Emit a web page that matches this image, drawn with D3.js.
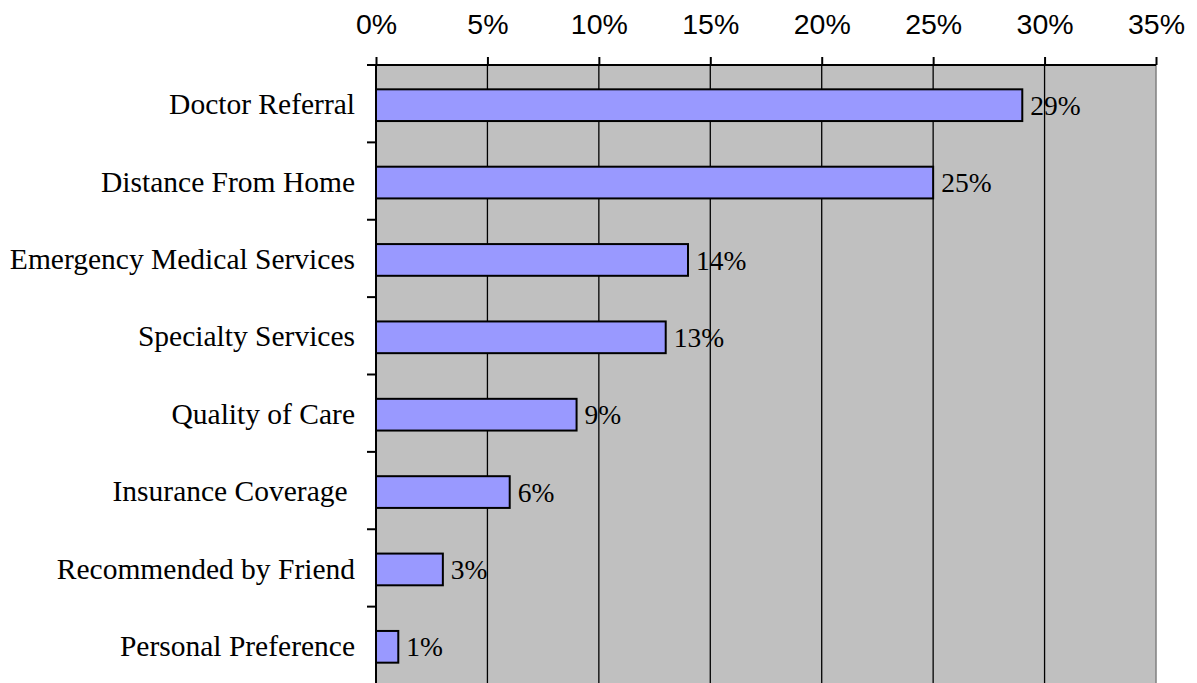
<!DOCTYPE html>
<html><head><meta charset="utf-8">
<script src="https://cdn.jsdelivr.net/npm/d3@7"></script>
<style>
html,body{margin:0;padding:0;background:#fff;}
svg{display:block;}
</style></head>
<body>
<svg id="chart" width="1197" height="683"></svg>
<script>
const categories = ["Doctor Referral","Distance From Home","Emergency Medical Services","Specialty Services","Quality of Care","Insurance Coverage ","Recommended by Friend","Personal Preference"];
const values = [29,25,14,13,9,6,3,1];
const tickValues = [0,5,10,15,20,25,30,35];

(function(){
const svg = d3.select("#chart");
const pL = 376, pR = 1156, pT = 65, pB = 684;
const x = d3.scaleLinear().domain([0,35]).range([pL,pR]);
const y = d3.scaleBand().domain(categories).range([pT,pB]).paddingInner(0.59).paddingOuter(0.295);
const yTicks = d3.scaleBand().domain(categories).range([pT,pB]);

svg.append("rect").attr("x",pL).attr("y",pT).attr("width",pR-pL).attr("height",pB-pT).attr("fill","#C0C0C0");

svg.append("g").selectAll("line").data(tickValues.slice(1,-1)).join("line")
  .attr("x1",d=>x(d)).attr("x2",d=>x(d)).attr("y1",pT).attr("y2",pB)
  .attr("stroke","#000").attr("stroke-width",1.3);
svg.append("line").attr("x1",pR).attr("x2",pR).attr("y1",pT).attr("y2",pB).attr("stroke","#808080").attr("stroke-width",1.5);

svg.append("g").selectAll("rect").data(values).join("rect")
  .attr("x",x(0)).attr("y",(d,i)=>y(categories[i])+1.5)
  .attr("width",d=>x(d)-x(0)).attr("height",y.bandwidth())
  .attr("fill","#9999FF").attr("stroke","#000").attr("stroke-width",2);

svg.append("g").selectAll("text").data(values).join("text")
  .attr("x",d=>x(d)+8).attr("y",(d,i)=>y(categories[i])+1.5+y.bandwidth()/2)
  .attr("dy","0.35em")
  .attr("font-family","'Liberation Serif','Times New Roman',serif").attr("font-size",27.5).attr("fill","#000")
  .text(d=>d+"%");

const xAxis = d3.axisTop(x).tickValues(tickValues).tickFormat(d=>d+"%").tickSize(8).tickPadding(23);
const gx = svg.append("g").attr("transform",`translate(0,${pT})`).call(xAxis);
gx.select(".domain").attr("stroke","#000").attr("stroke-width",2).attr("d",`M${pL},0H${pR}`);
gx.selectAll(".tick line").attr("stroke","#000").attr("stroke-width",2);
gx.selectAll(".tick text").attr("font-family","'Liberation Sans',Arial,sans-serif").attr("font-size",28.5).attr("fill","#000");

const yAxis = d3.axisLeft(yTicks).tickSize(0).tickPadding(21);
const gy = svg.append("g").attr("transform",`translate(${pL},0)`).call(yAxis);
gy.select(".domain").attr("stroke","#000").attr("stroke-width",2).attr("d",`M0,${pT}V${pB}`);
gy.selectAll(".tick text").attr("font-family","'Liberation Serif','Times New Roman',serif").attr("font-size",29.5).attr("fill","#000").style("white-space","pre").attr("dy","0.36em");
svg.append("g").selectAll("line").data(categories).join("line")
  .attr("x1",pL-9).attr("x2",pL).attr("y1",d=>yTicks(d)).attr("y2",d=>yTicks(d))
  .attr("stroke","#000").attr("stroke-width",2);
})();
</script>
</body></html>
